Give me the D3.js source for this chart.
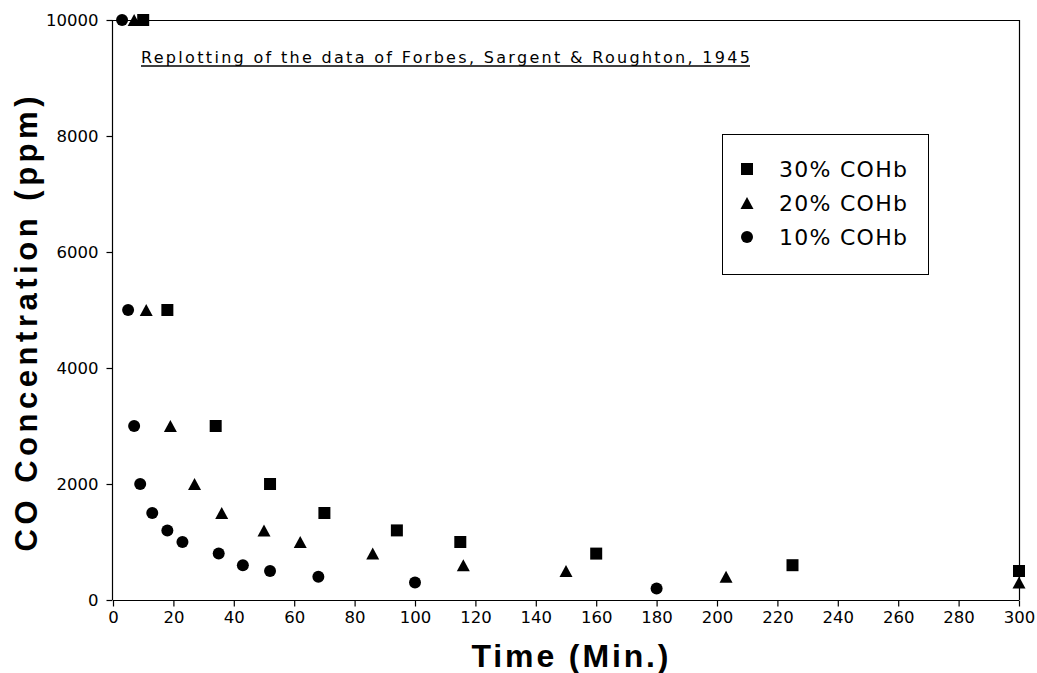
<!DOCTYPE html>
<html>
<head>
<meta charset="utf-8">
<script src="https://cdn.jsdelivr.net/npm/d3@7"></script>
<style>
  html, body { margin: 0; padding: 0; background: #fff; }
  svg { display: block; }
</style>
</head>
<body>
<svg id="chart" width="1037" height="673"></svg>
<script>
// Time (min) and CO concentration (ppm) for each COHb level
const coHb30Time = [10, 18, 34, 52, 70, 94, 115, 160, 225, 300];
const coHb30Ppm  = [10000, 5000, 3000, 2000, 1500, 1200, 1000, 800, 600, 500];
const coHb20Time = [7, 11, 19, 27, 36, 50, 62, 86, 116, 150, 203, 300];
const coHb20Ppm  = [10000, 5000, 3000, 2000, 1500, 1200, 1000, 800, 600, 500, 400, 300];
const coHb10Time = [3, 5, 7, 9, 13, 18, 23, 35, 43, 52, 68, 100, 180];
const coHb10Ppm  = [10000, 5000, 3000, 2000, 1500, 1200, 1000, 800, 600, 500, 400, 300, 200];

const seriesNames = ["30% COHb", "20% COHb", "10% COHb"];
const seriesShapes = ["square", "triangle", "circle"];
const xTicks = d3.range(0, 301, 20);
const xMinorTicks = d3.range(0, 301, 4);
const yTicks = d3.range(0, 10001, 2000);
const yMinorTicks = d3.range(0, 10001, 1000);

const titleText = "Replotting of the data of Forbes, Sargent & Roughton, 1945";
const xTitle = "Time (Min.)";
const yTitle = "CO Concentration (ppm)";

const series = [
  { name: seriesNames[0], shape: seriesShapes[0], pts: coHb30Time.map((t, i) => [t, coHb30Ppm[i]]) },
  { name: seriesNames[1], shape: seriesShapes[1], pts: coHb20Time.map((t, i) => [t, coHb20Ppm[i]]) },
  { name: seriesNames[2], shape: seriesShapes[2], pts: coHb10Time.map((t, i) => [t, coHb10Ppm[i]]) }
];

const svg = d3.select("#chart");
const plotLeft = 113, plotRight = 1019, plotTop = 20, plotBottom = 600;

const x = d3.scaleLinear().domain([0, 300]).range([plotLeft, plotRight]);
const y = d3.scaleLinear().domain([0, 10000]).range([plotBottom, plotTop]);

const tickFont = "'DejaVu Sans', sans-serif";

// marker path generator, centred on the bounding box
function markerPath(shape, s) {
  const h = s / 2;
  if (shape === "square") return `M${-h},${-h}H${h}V${h}H${-h}Z`;
  if (shape === "triangle") return `M0,${-h}L${h + 0.5},${h}L${-h - 0.5},${h}Z`;
  const p = d3.path(); p.arc(0, 0, h, 0, 2 * Math.PI); return p.toString();
}

// frame: top and right edges
svg.append("path")
  .attr("d", `M${plotLeft},${plotTop + 0.5}H${plotRight + 0.5}V${plotBottom}`)
  .attr("fill", "none").attr("stroke", "#000").attr("stroke-width", 1.2);

// x axis
const gx = svg.append("g").attr("transform", `translate(0,${plotBottom + 0.5})`);
gx.call(d3.axisBottom(x).tickValues(xMinorTicks).tickSize(3).tickFormat(""));
gx.call(d3.axisBottom(x).tickValues(xTicks).tickSize(6).tickFormat(d3.format("d")).tickPadding(5));
gx.selectAll(".domain").attr("d", `M${plotLeft},0H${plotRight}`);

// y axis
const gy = svg.append("g").attr("transform", `translate(${plotLeft - 0.5},0)`);
gy.call(d3.axisLeft(y).tickValues(yMinorTicks).tickSize(3).tickFormat(""));
gy.call(d3.axisLeft(y).tickValues(yTicks).tickSize(6).tickFormat(d3.format("d")).tickPadding(8));
gy.selectAll(".domain").attr("d", `M0,${plotTop}V${plotBottom}`);

svg.selectAll(".tick text")
  .attr("font-family", tickFont).attr("font-size", 16.5).attr("fill", "#000");
svg.selectAll(".domain, .tick line").attr("stroke", "#000").attr("stroke-width", 1.2);

// data markers
series.forEach(s => {
  svg.append("g").selectAll("path").data(s.pts).join("path")
    .attr("d", markerPath(s.shape, 12))
    .attr("transform", d => `translate(${x(d[0])},${y(d[1])})`)
    .attr("fill", "#000");
});

// underlined title inside the plot
svg.append("text")
  .attr("x", 141).attr("y", 63)
  .attr("font-family", "'DejaVu Sans', sans-serif")
  .attr("font-size", 16)
  .attr("textLength", 609).attr("lengthAdjust", "spacing")
  .attr("fill", "#000")
  .text(titleText);
svg.append("line")
  .attr("x1", 141).attr("x2", 750).attr("y1", 66).attr("y2", 66)
  .attr("stroke", "#000").attr("stroke-width", 1.3);

// legend
const lg = svg.append("g");
lg.append("rect").attr("x", 722.5).attr("y", 134.5).attr("width", 206).attr("height", 140)
  .attr("fill", "#fff").attr("stroke", "#000").attr("stroke-width", 1);
series.forEach((s, i) => {
  const cy = 169 + i * 34;
  lg.append("path").attr("d", markerPath(s.shape, 12))
    .attr("transform", `translate(747,${cy})`).attr("fill", "#000");
  lg.append("text").attr("x", 779).attr("y", cy + 8)
    .attr("font-family", "'DejaVu Sans', sans-serif")
    .attr("font-size", 22)
    .attr("textLength", 128).attr("lengthAdjust", "spacing")
    .attr("fill", "#000").text(s.name);
});

// axis titles
svg.append("text")
  .attr("x", 570).attr("y", 667)
  .attr("text-anchor", "middle")
  .attr("font-family", "'Liberation Sans', Arial, sans-serif")
  .attr("font-weight", "bold").attr("font-size", 32)
  .attr("textLength", 197).attr("lengthAdjust", "spacing")
  .attr("fill", "#000").text(xTitle);

svg.append("text")
  .attr("transform", "translate(37,324) rotate(-90)")
  .attr("text-anchor", "middle")
  .attr("font-family", "'Liberation Sans', Arial, sans-serif")
  .attr("font-weight", "bold").attr("font-size", 31)
  .attr("textLength", 455).attr("lengthAdjust", "spacing")
  .attr("fill", "#000").text(yTitle);
</script>
</body>
</html>
